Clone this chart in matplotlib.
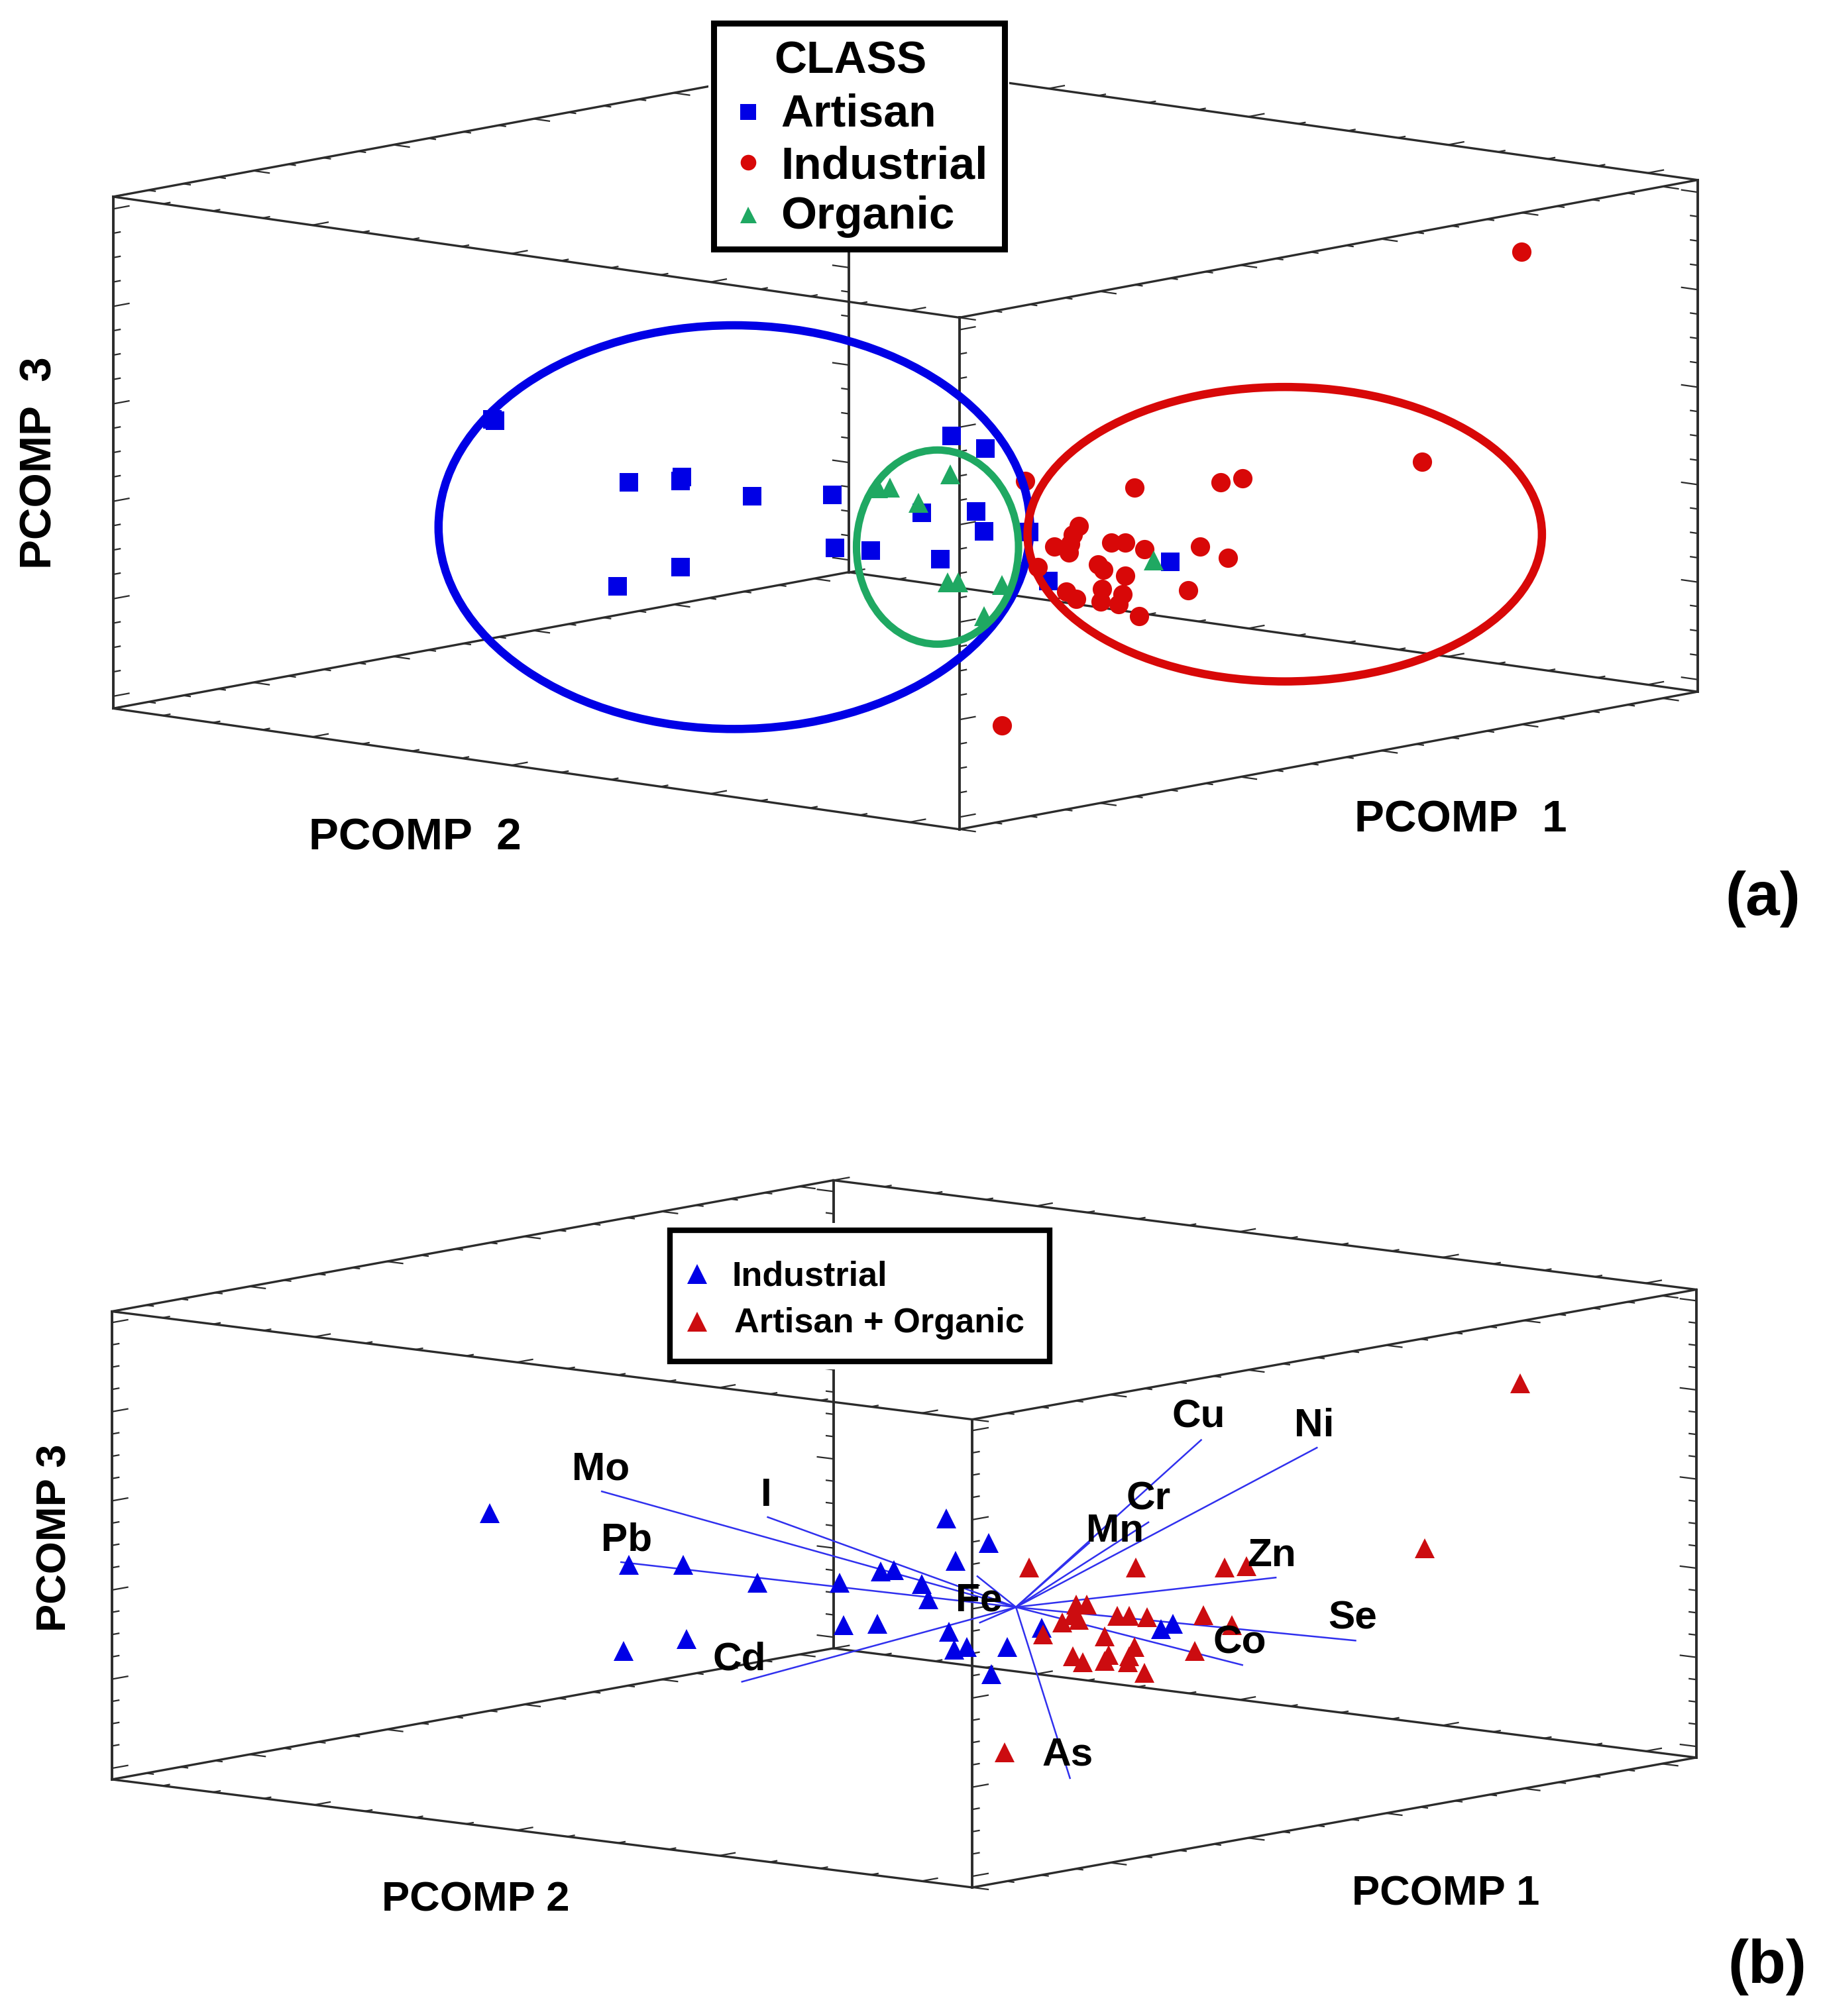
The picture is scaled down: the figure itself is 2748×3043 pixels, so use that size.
import matplotlib
matplotlib.use("Agg")
import matplotlib.pyplot as plt
from matplotlib.patches import Ellipse, Rectangle
import numpy as np

plt.rcParams["font.family"] = ["Liberation Sans", "DejaVu Sans"]
plt.rcParams["font.weight"] = "bold"

BLUE = "#0000e6"
RED = "#d80808"
GREEN = "#1fa862"
DARK = "#2b2b2b"

# panel (a) scores
artisan_x = [383, 385, 489, 529, 530, 585, 647, 649, 677, 717, 731, 740, 766, 759, 765, 480, 529, 910, 815, 800]
artisan_y = [326, 327, 375, 374, 371, 386, 385, 426, 428, 399, 435, 339, 349, 398, 413, 456, 441, 437, 452, 414]
industrial_x = [797, 882, 949, 966, 839, 834, 832, 820, 831, 864, 875, 890, 933, 955, 854, 858, 875, 807,
                924, 829, 837, 857, 856, 873, 870, 886, 779, 1183, 1106]
industrial_y = [374, 379, 375, 372, 409, 416, 423, 425, 430, 422, 422, 427, 425, 434, 439, 443, 448, 441,
                459, 460, 466, 458, 468, 462, 470, 479, 564, 196, 359]
organic_x = [739, 692, 683, 714, 737, 745, 779, 765, 897]
organic_y = [369, 379, 380, 391, 453, 453, 455, 479, 436]

# panel (b) scores
ind_x = [381, 489, 531, 589, 653, 485, 534, 656, 682, 736, 769, 743, 685, 695, 717, 722, 738, 742, 752, 783,
         771, 810, 903, 912]
ind_y = [1177, 1217, 1217, 1231, 1231, 1284, 1275, 1264, 1263, 1181, 1200, 1214, 1222, 1221, 1232, 1244, 1269,
         1283, 1281, 1281, 1302, 1266, 1267, 1263]
art_org_x = [800, 883, 952, 969, 837, 845, 834, 839, 826, 869, 878, 892, 936, 958, 811, 859, 882, 862, 929,
             834, 842, 859, 877, 878, 890, 781, 1182, 1108]
art_org_y = [1219, 1219, 1219, 1218, 1248, 1248, 1256, 1260, 1262, 1257, 1257, 1258, 1256, 1264, 1271, 1273,
             1281, 1287, 1284, 1288, 1293, 1292, 1293, 1288, 1301, 1363, 1076, 1204]

# loading vectors of panel (b)
origin = (790, 1250)
elements = ["Mo", "I", "Pb", "Cd", "Cu", "Ni", "Cr", "Mn", "Zn", "Se", "Co", "As", "Fe"]
load_x = [468, 597, 483, 577, 934, 1024, 893, 847, 992, 1054, 966, 832, 760]
load_y = [1160, 1180, 1215, 1308, 1120, 1126, 1184, 1200, 1227, 1276, 1295, 1383, 1226]
label_x = [467, 596, 487, 575, 932, 1022, 893, 867, 989, 1052, 964, 830, 761]
label_y = [1143, 1163, 1198, 1291, 1102, 1109, 1166, 1191, 1210, 1259, 1278, 1365, 1245]
stub_x = 762
stub_y = 1262

fig = plt.figure(figsize=(27.48, 30.43), dpi=100)
ax = fig.add_axes([0, 0, 1, 1])
ax.set_xlim(0, 1416)
ax.set_ylim(1568, 0)
ax.axis("off")


def edge_ticks(p0, p1, n, direction, major_len=13, minor_len=6, start=0.0):
    p0, p1 = np.array(p0, float), np.array(p1, float)
    d = np.array(direction, float)
    d = d / np.hypot(*d)
    for k in range(n):
        t = (k + start) / n
        p = p0 + (p1 - p0) * t
        ln = major_len if k % 4 == 0 else minor_len
        q = p + d * ln
        ax.plot([p[0], q[0]], [p[1], q[1]], color=DARK, lw=1.6, solid_capstyle="butt", zorder=1)


def draw_box(fl_top, fr_top, r_top, b_top, dz):
    # fl = front left, fr = front centre, r = right, b = back corner
    fl_bot = (fl_top[0], fl_top[1] + dz)
    fr_bot = (fr_top[0], fr_top[1] + dz)
    r_bot = (r_top[0], r_top[1] + dz)
    b_bot = (b_top[0], b_top[1] + dz)
    edges = [(fl_top, fr_top), (fr_top, r_top), (fl_top, b_top), (b_top, r_top),
             (fl_bot, fr_bot), (fr_bot, r_bot), (fl_bot, b_bot), (b_bot, r_bot)]
    for a, b in edges:
        ax.plot([a[0], b[0]], [a[1], b[1]], color=DARK, lw=2.4, solid_capstyle="projecting", zorder=1)
    for a, b in [(fl_top, fl_bot), (fr_top, fr_bot), (r_top, r_bot), (b_top, b_bot)]:
        ax.plot([a[0], b[0]], [a[1], b[1]], color=DARK, lw=2.8, solid_capstyle="projecting", zorder=1)
    dir_l = np.subtract(fr_top, fl_top)   # down-right
    dir_r = np.subtract(r_top, fr_top)    # up-right
    # ticks along the four long edges at top and bottom
    for off in (0, dz):
        edge_ticks((fl_top[0], fl_top[1] + off), (fr_top[0], fr_top[1] + off), 17, dir_r)
        edge_ticks((fr_top[0], fr_top[1] + off), (r_top[0], r_top[1] + off), 21, dir_l)
        edge_ticks((fl_top[0], fl_top[1] + off), (b_top[0], b_top[1] + off), 21, dir_l)
        edge_ticks((b_top[0], b_top[1] + off), (r_top[0], r_top[1] + off), 17, dir_r)
    # ticks on the vertical edges
    edge_ticks(fl_top, fl_bot, 21, dir_r, start=0.5)
    edge_ticks(fr_top, fr_bot, 21, dir_r, start=0.5)
    edge_ticks(r_top, r_bot, 21, -dir_l, start=0.5)
    edge_ticks(b_top, b_bot, 21, -dir_l, start=0.5)


def legend_box(x0, y0, x1, y1, lw, gapx, gapy):
    ax.add_patch(Rectangle((x0 - gapx, y0 - gapy), x1 - x0 + 2 * gapx, y1 - y0 + 2 * gapy,
                           fc="white", ec="none", zorder=5))
    ax.add_patch(Rectangle((x0, y0), x1 - x0, y1 - y0, fc="white", ec="black", lw=lw, zorder=6))


# ---- panel (a)
draw_box((88, 153), (746, 247), (1320, 140), (660, 47), 398)

ax.plot(artisan_x, artisan_y, "s", color=BLUE, ms=19.5, mew=0, zorder=3)
ax.plot(industrial_x, industrial_y, "o", color=RED, ms=21, mew=0, zorder=3)
ax.plot(organic_x, organic_y, "^", color=GREEN, ms=22, mew=0, zorder=4)

ax.add_patch(Ellipse((571, 410), 460, 314, fc="none", ec=BLUE, lw=9, zorder=5))
ax.add_patch(Ellipse((729, 425.5), 126, 151, fc="none", ec=GREEN, lw=8, zorder=5))
ax.add_patch(Ellipse((999, 415.5), 400, 229, fc="none", ec=RED, lw=9, zorder=5))

legend_box(555, 18, 781, 194, 6.5, 4, 1)
ax.plot([582], [87], "s", color=BLUE, ms=17, mew=0, zorder=7)
ax.plot([582], [126], "o", color=RED, ms=17, mew=0, zorder=7)
ax.plot([582], [167], "^", color=GREEN, ms=18, mew=0, zorder=7)
ax.text(602, 57, "CLASS", fontsize=49, va="baseline", ha="left", zorder=7)
ax.text(607, 98, "Artisan", fontsize=49, va="baseline", ha="left", zorder=7)
ax.text(607, 139, "Industrial", fontsize=50, va="baseline", ha="left", zorder=7)
ax.text(607, 178, "Organic", fontsize=50, va="baseline", ha="left", zorder=7)

ax.text(323, 652, "PCOMP  2", fontsize=48.5, ha="center", va="center")
ax.text(1136, 638, "PCOMP  1", fontsize=48.5, ha="center", va="center")
ax.text(31, 360, "PCOMP  3", fontsize=48.5, ha="center", va="center", rotation=90)
ax.text(1371, 699, "(a)", fontsize=67, ha="center", va="center")

# ---- panel (b)
draw_box((87, 1020), (756, 1104), (1319, 1003), (648, 918), 364)

for ex, ey in zip(load_x + [stub_x], load_y + [stub_y]):
    ax.plot([origin[0], ex], [origin[1], ey], color="#3030ee", lw=1.8, zorder=2)
ax.plot(ind_x, ind_y, "^", color=BLUE, ms=22, mew=0, zorder=3)
ax.plot(art_org_x, art_org_y, "^", color="#cc0c10", ms=22, mew=0, zorder=3)

for name, lx, ly in zip(elements, label_x, label_y):
    ax.text(lx, ly, name, fontsize=43.5, ha="center", va="center", zorder=6)

legend_box(521, 957, 816, 1059, 6, 5, 6)
ax.plot([542], [991], "^", color=BLUE, ms=22, mew=0, zorder=7)
ax.plot([542], [1028], "^", color="#cc0c10", ms=22, mew=0, zorder=7)
ax.text(569, 1000, "Industrial", fontsize=37.5, va="baseline", ha="left", zorder=7)
ax.text(571, 1036, "Artisan + Organic", fontsize=37.7, va="baseline", ha="left", zorder=7)

ax.text(370, 1478, "PCOMP 2", fontsize=45.5, ha="center", va="center")
ax.text(1124, 1473, "PCOMP 1", fontsize=45.5, ha="center", va="center")
ax.text(43, 1196, "PCOMP 3", fontsize=45.5, ha="center", va="center", rotation=90)
ax.text(1374, 1530, "(b)", fontsize=67, ha="center", va="center")

fig.savefig("out.png", dpi=100)
print("Saved out.png")
